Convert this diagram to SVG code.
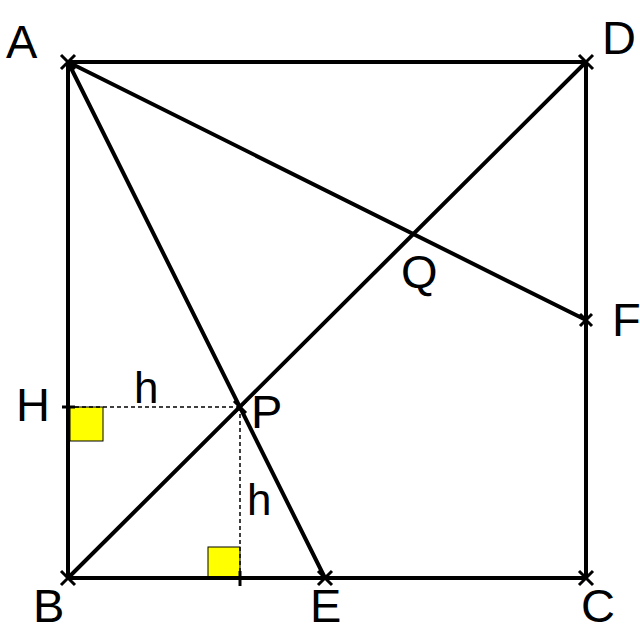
<svg xmlns="http://www.w3.org/2000/svg" width="640" height="632" viewBox="0 0 640 632">
<style>
.ln{stroke:#000;stroke-width:4;fill:none;stroke-linecap:round}
.dash{stroke:#000;stroke-width:1.5;stroke-dasharray:4,3;fill:none}
.x{stroke:#000;stroke-width:3;fill:none}
.lbl{font-family:"Liberation Sans",Arial,sans-serif;font-size:47px;fill:#000}
.sm{font-family:"Liberation Sans",Arial,sans-serif;font-size:44px;fill:#000}
.ra{fill:#ffff00;stroke:#000;stroke-width:1}
</style>
<rect width="640" height="632" fill="#fff"/>
<g id="right-angles">
<rect class="ra" x="70" y="407" width="33" height="34"/>
<rect class="ra" x="208" y="547" width="32" height="31"/>
</g>
<g id="connectors">
<path class="ln" d="M68,62 H586 V578 H68 Z"/>
<line class="ln" x1="68" y1="578" x2="586" y2="62"/>
<line class="ln" x1="68" y1="62" x2="325" y2="578"/>
<line class="ln" x1="68" y1="62" x2="586" y2="320"/>
<line class="dash" x1="68" y1="407" x2="240" y2="407"/>
<line class="dash" x1="240" y1="407" x2="240" y2="578"/>
<line class="x" x1="62" y1="407" x2="75" y2="407"/>
<line class="x" x1="240" y1="571" x2="240" y2="586"/>
</g>
<g id="A"><path class="x" d="M61,55 L75,69 M75,55 L61,69"/><text class="lbl" x="6" y="58">A</text></g>
<g id="D"><path class="x" d="M579,55 L593,69 M593,55 L579,69"/><text class="lbl" x="602" y="54">D</text></g>
<g id="B"><path class="x" d="M61,571 L75,585 M75,571 L61,585"/><text class="lbl" x="33" y="622">B</text></g>
<g id="C"><path class="x" d="M579,571 L593,585 M593,571 L579,585"/><text class="lbl" x="581" y="622">C</text></g>
<g id="E"><path class="x" d="M318,571 L332,585 M332,571 L318,585"/><text class="lbl" x="310" y="622">E</text></g>
<g id="F"><path class="x" d="M580,314 L592,326 M592,314 L580,326"/><text class="lbl" x="612" y="336">F</text></g>
<g id="P"><path class="x" d="M234,401 L246,413 M246,401 L234,413"/><text class="lbl" x="251" y="428">P</text></g>
<g id="Q"><text class="lbl" x="401" y="288">Q</text></g>
<g id="H"><text class="lbl" x="16" y="421">H</text></g>
<g id="h1"><text class="sm" x="134" y="403">h</text></g>
<g id="h2"><text class="sm" x="247" y="515">h</text></g>
</svg>
